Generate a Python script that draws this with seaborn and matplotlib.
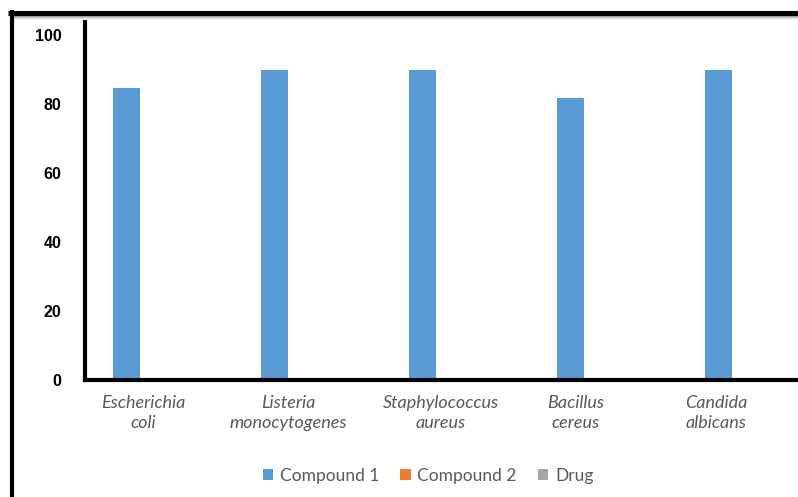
import numpy as np
import pandas as pd
import matplotlib
matplotlib.use("Agg")
import matplotlib.pyplot as plt
import seaborn as sns
from matplotlib.lines import Line2D
from matplotlib.patches import Patch

# data
species = ["Escherichia\ncoli", "Listeria\nmonocytogenes", "Staphylococcus\naureus",
           "Bacillus\ncereus", "Candida\nalbicans"]
series = ["Compound 1", "Compound 2", "Drug"]
compound1 = [84.5, 89.7, 89.7, 81.6, 89.7]
compound2 = [0, 0, 0, 0, 0]   # no visible bars
drug = [0, 0, 0, 0, 0]        # no visible bars
yticks = [0, 20, 40, 60, 80, 100]

colors = ["#5B9BD5", "#ED7D31", "#A5A5A5"]

df = pd.DataFrame({
    "species": species * 3,
    "series": np.repeat(series, len(species)),
    "value": compound1 + compound2 + drug,
})

W, H = 798, 497
fig = plt.figure(figsize=(W / 100, H / 100), dpi=100)
# axes placed in pixel terms, running off the right edge like the crop
left, right, top, bottom = 85, 798, 16, 379.5
ax = fig.add_axes([left / W, 1 - bottom / H, (right - left) / W, (bottom - top) / H])

sns.barplot(data=df, x="species", y="value", hue="series", palette=colors,
            width=0.55, gap=0, saturation=1, ax=ax, legend=False)

ax.set_ylim(0, 105.4)
ax.set_xlim(-0.466, -0.466 + (right - left) / 148)
ax.set_yticks(yticks)
ax.set_yticklabels([str(v) for v in yticks], fontfamily="Liberation Sans",
                   fontweight="bold", fontsize=11.5, color="black")

# labels in the reference drift left of the category centres
tick_shift = np.array([0.07, 0.09, 0.06, 0.15, 0.20])
ax.set_xticks(np.arange(len(species)) - tick_shift)
ax.set_xticklabels(species, fontfamily="Lato", fontstyle="italic", fontsize=13,
                   color="#595959", linespacing=1.35)
ax.tick_params(axis="both", length=0)
ax.tick_params(axis="y", pad=17)
ax.tick_params(axis="x", pad=11)
ax.set_xlabel("")
ax.set_ylabel("")

for s in ["top", "right"]:
    ax.spines[s].set_visible(False)
for s in ["left", "bottom"]:
    ax.spines[s].set_linewidth(3)
    ax.spines[s].set_color("black")
    ax.spines[s].set_capstyle("projecting")

# outer frame: thick black lines at the top and on the far left, soft shadow under the top
def px_line(x0, y0, x1, y1, **kw):
    fig.add_artist(Line2D([x0 / W, x1 / W], [1 - y0 / H, 1 - y1 / H],
                          transform=fig.transFigure, **kw))

for i, g in enumerate(["#9a9a9a", "#c4c4c4", "#e2e2e2", "#f2f2f2"]):
    px_line(14, 15.5 + i, W, 15.5 + i, color=g, lw=0.8)
px_line(8, 12.5, W, 12.5, color="black", lw=3.6, solid_capstyle="butt")
px_line(12, 10, 12, H, color="black", lw=3.0, solid_capstyle="butt")

handles = [Patch(facecolor=c, edgecolor="none") for c in colors]
fig.legend(handles, series, loc="center", bbox_to_anchor=(428 / W, 1 - 476 / H),
           ncol=3, frameon=False, handlelength=0.6, handleheight=0.6,
           handletextpad=0.4, columnspacing=1.2,
           prop={"family": "Lato", "size": 12.5}, labelcolor="#595959")

fig.savefig("out.png", dpi=100)
